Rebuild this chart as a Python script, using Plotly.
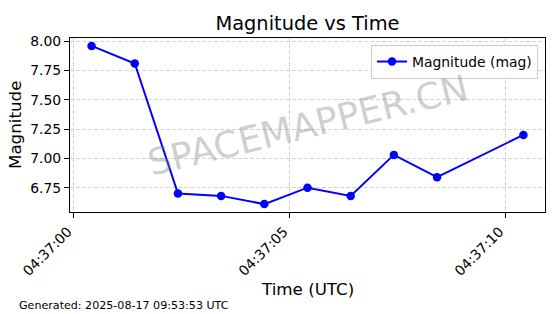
import plotly.graph_objects as go

times = ["2025-08-17 04:37:00.41", "2025-08-17 04:37:01.41", "2025-08-17 04:37:02.41",
         "2025-08-17 04:37:03.41", "2025-08-17 04:37:04.41", "2025-08-17 04:37:05.41",
         "2025-08-17 04:37:06.41", "2025-08-17 04:37:07.41", "2025-08-17 04:37:08.41",
         "2025-08-17 04:37:10.41"]
magnitudes = [7.96, 7.81, 6.70, 6.68, 6.61, 6.75, 6.68, 7.03, 6.84, 7.20]
x_tickvals = ["2025-08-17 04:37:00", "2025-08-17 04:37:05", "2025-08-17 04:37:10"]
x_ticktext = ["04:37:00", "04:37:05", "04:37:10"]
y_tickvals = [6.75, 7.00, 7.25, 7.50, 7.75, 8.00]
y_ticktext = ["6.75", "7.00", "7.25", "7.50", "7.75", "8.00"]

FONT = "DejaVu Sans"

fig = go.Figure()
fig.add_trace(go.Scatter(
    x=times, y=magnitudes, mode="lines+markers", name="Magnitude (mag)",
    line=dict(color="#0000ff", width=2),
    marker=dict(color="#0000ff", size=8.5, symbol="circle"),
))

W, H = 560, 314
L, R, T, B = 70, 15, 38, 102
pw, ph = W - L - R, H - T - B

def px_x(x):
    return (x - L) / pw

def px_y(y):
    return (H - B - y) / ph

fig.update_layout(
    width=W, height=H,
    margin=dict(l=L, r=R, t=T, b=B, pad=0),
    paper_bgcolor="white", plot_bgcolor="white",
    font=dict(family=FONT, color="black", size=14),
    title=dict(text="Magnitude vs Time", x=0.5, xref="paper", xanchor="center",
               y=1 - 23 / H, yref="container", yanchor="middle",
               font=dict(size=19.4, family=FONT)),
    showlegend=True,
    legend=dict(x=px_x(538), y=px_y(45), xanchor="right", yanchor="top",
                bgcolor="rgba(255,255,255,0.8)", bordercolor="#cccccc", borderwidth=1,
                font=dict(size=13.9, family=FONT), itemwidth=30,
                tracegroupgap=0),
    xaxis=dict(
        type="date",
        range=["2025-08-17 04:36:59.91", "2025-08-17 04:37:10.91"],
        tickvals=x_tickvals, ticktext=x_ticktext, tickangle=-45,
        ticklabelshift=-6,
        ticks="outside", ticklen=5, tickwidth=1, tickcolor="black",
        showline=True, linecolor="black", linewidth=1, mirror=True,
        showgrid=True, gridcolor="#d3d3d3", griddash="4px,2px", gridwidth=1,
        zeroline=False, tickfont=dict(size=13.9, family=FONT),
    ),
    yaxis=dict(
        range=[6.5425, 8.0275],
        tickvals=y_tickvals, ticktext=y_ticktext,
        ticks="outside", ticklen=5, tickwidth=1, tickcolor="black",
        showline=True, linecolor="black", linewidth=1, mirror=True,
        showgrid=True, gridcolor="#d3d3d3", griddash="4px,2px", gridwidth=1,
        zeroline=False, tickfont=dict(size=13.9, family=FONT),
    ),
    annotations=[
        dict(text="SPACEMAPPER.CN", x=0.5, y=0.5, xref="paper", yref="paper",
             xanchor="center", yanchor="middle", showarrow=False, textangle=-13.5,
             font=dict(size=36.5, family=FONT, color="rgba(128,128,128,0.38)")),
        dict(text="Time (UTC)", x=0.5, y=px_y(289), xref="paper", yref="paper",
             xanchor="center", yanchor="middle", showarrow=False,
             font=dict(size=16.7, family=FONT)),
        dict(text="Magnitude", x=px_x(15), y=px_y(125), xref="paper", yref="paper",
             xanchor="center", yanchor="middle", showarrow=False, textangle=-90,
             font=dict(size=16.7, family=FONT)),
        dict(text="Generated: 2025-08-17 09:53:53 UTC", x=px_x(17), y=px_y(305),
             xref="paper", yref="paper", xanchor="left", yanchor="middle",
             showarrow=False, font=dict(size=11.1, family=FONT)),
    ],
)

fig.write_html("out.html")
